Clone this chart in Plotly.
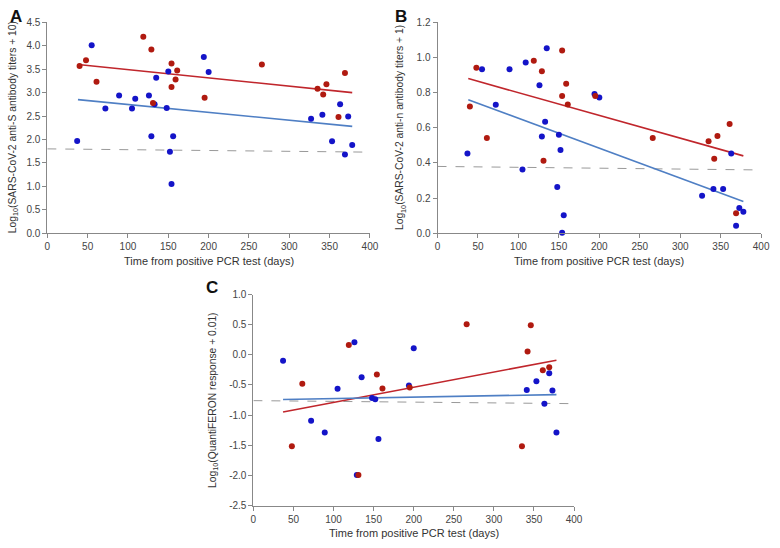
import plotly.graph_objects as go

# ---------------- data ----------------
blue_days = [37, 55, 72, 89, 105, 109, 126, 129, 133, 135, 148, 150, 152, 154, 156,
             194, 200, 327, 341, 353, 363, 369, 373, 378]
red_days = [40, 48, 61, 119, 129, 131, 154, 154, 159, 161, 195, 266, 335, 342, 346, 361, 369]

a_blue = [1.97, 4.01, 2.66, 2.94, 2.66, 2.87, 2.94, 2.07, 2.75, 3.32, 2.67, 3.45, 1.74, 1.05, 2.07,
          3.76, 3.44, 2.44, 2.53, 1.96, 2.75, 1.68, 2.49, 1.88]
a_red = [3.57, 3.69, 3.23, 4.19, 3.92, 2.78, 3.62, 3.12, 3.28, 3.47, 2.89, 3.60, 3.08, 2.96, 3.18, 2.48, 3.42]

b_blue = [0.453, 0.933, 0.731, 0.933, 0.362, 0.972, 0.842, 0.551, 0.634, 1.052, 0.263, 0.560, 0.473,
          0.002, 0.102, 0.792, 0.772, 0.213, 0.252, 0.252, 0.453, 0.043, 0.143, 0.122]
b_red = [0.721, 0.942, 0.542, 0.981, 0.922, 0.412, 1.040, 0.781, 0.851, 0.733, 0.781, 0.542, 0.523,
         0.423, 0.553, 0.621, 0.113]

c_blue_days = [37, 72, 89, 105, 126, 129, 135, 148, 152, 156, 194, 200, 341, 353, 363, 369, 373, 378]
c_blue = [-0.098, -1.094, -1.288, -0.563, 0.210, -1.992, -0.374, -0.715, -0.736, -1.396, -0.509, 0.107,
          -0.585, -0.439, -0.812, -0.304, -0.590, -1.288]
c_red_days = [48, 61, 119, 131, 154, 161, 195, 266, 335, 342, 346, 361, 369]
c_red = [-1.515, -0.482, 0.161, -1.992, -0.325, -0.558, -0.542, 0.508, -1.515, 0.053, 0.491, -0.255, -0.206]

# regression line endpoints
fit_x = [38, 378]
a_fit_red = [3.60, 3.00]
a_fit_blue = [2.85, 2.28]
b_fit_red = [0.88, 0.44]
b_fit_blue = [0.76, 0.18]
c_fit_x = [37, 378]
c_fit_red = [-0.95, -0.09]
c_fit_blue = [-0.74, -0.66]

# threshold (dashed) lines
thr_x = [0, 400]
a_thr = [1.80, 1.73]
b_thr = [0.38, 0.36]
c_thr = [-0.76, -0.81]

x_ticks = [0, 50, 100, 150, 200, 250, 300, 350, 400]
a_yticks = [0, 0.5, 1.0, 1.5, 2.0, 2.5, 3.0, 3.5, 4.0, 4.5]
b_yticks = [0, 0.2, 0.4, 0.6, 0.8, 1.0, 1.2]
c_yticks = [-2.5, -2.0, -1.5, -1.0, -0.5, 0.0, 0.5, 1.0]

BLUE = "#1414c8"
RED = "#b01a10"
LRED = "#c0262c"
LBLUE = "#4f7fc4"
GREY = "#999999"
FONT = "Liberation Sans, Arial, sans-serif"

fig = go.Figure()

panels = [
    ("x", "y", blue_days, a_blue, red_days, a_red, fit_x, a_fit_red, a_fit_blue, a_thr),
    ("x2", "y2", blue_days, b_blue, red_days, b_red, fit_x, b_fit_red, b_fit_blue, b_thr),
    ("x3", "y3", c_blue_days, c_blue, c_red_days, c_red, c_fit_x, c_fit_red, c_fit_blue, c_thr),
]
for xa, ya, bx, by, rx, ry, fx, fr, fb, th in panels:
    fig.add_trace(go.Scatter(x=thr_x, y=th, mode="lines", xaxis=xa, yaxis=ya,
                             line=dict(color=GREY, width=1, dash="dash"), showlegend=False))
    fig.add_trace(go.Scatter(x=fx, y=fr, mode="lines", xaxis=xa, yaxis=ya,
                             line=dict(color=LRED, width=1.6), showlegend=False))
    fig.add_trace(go.Scatter(x=fx, y=fb, mode="lines", xaxis=xa, yaxis=ya,
                             line=dict(color=LBLUE, width=1.6), showlegend=False))
    fig.add_trace(go.Scatter(x=bx, y=by, mode="markers", xaxis=xa, yaxis=ya, cliponaxis=False,
                             marker=dict(color=BLUE, size=6), showlegend=False))
    fig.add_trace(go.Scatter(x=rx, y=ry, mode="markers", xaxis=xa, yaxis=ya, cliponaxis=False,
                             marker=dict(color=RED, size=6), showlegend=False))

W, H = 780, 548


def xd(a, b):
    return [a / W, b / W]


def yd(top, bottom):
    return [1 - bottom / H, 1 - top / H]


axis_common = dict(showline=True, linecolor="#888888", linewidth=1, ticks="outside", ticklen=4,
                   tickcolor="#888888", showgrid=False, zeroline=False,
                   tickfont=dict(family=FONT, size=10, color="#444444"))

fig.update_layout(
    width=W, height=H, margin=dict(l=0, r=0, t=0, b=0),
    paper_bgcolor="white", plot_bgcolor="white",
    xaxis=dict(domain=xd(45, 372.7), range=[0, 400], tickvals=x_ticks, anchor="y", **axis_common),
    yaxis=dict(domain=yd(16.7, 232.3), range=[0, 4.5], tickvals=a_yticks, tickformat=".1f",
               anchor="x", **axis_common),
    xaxis2=dict(domain=xd(441.3, 770), range=[0, 400], tickvals=x_ticks, anchor="y2", **axis_common),
    yaxis2=dict(domain=yd(16.7, 232.3), range=[0, 1.2], tickvals=b_yticks, tickformat=".1f",
                anchor="x2", **axis_common),
    xaxis3=dict(domain=xd(254.3, 580), range=[0, 400], tickvals=x_ticks, anchor="y3", **axis_common),
    yaxis3=dict(domain=yd(295, 510.7), range=[-2.5, 1.0], tickvals=c_yticks,
                ticktext=[f"{v:.1f}" for v in c_yticks], anchor="x3", **axis_common),
)

ann = []
tfont = dict(family=FONT, size=11, color="#333333")
# x titles
for cx, cy in [((45 + 372.7) / 2, 261), ((441.3 + 770) / 2, 261), ((254.3 + 580) / 2, 539)]:
    ann.append(dict(x=cx / W, y=1 - cy / H, xref="paper", yref="paper", showarrow=False,
                    text="Time from positive PCR test (days)", font=tfont,
                    xanchor="center", yanchor="middle"))
# y titles
for cx, cy, txt in [
    (10, 124, "Log<sub>10</sub>(SARS-CoV-2 anti-S antibody titers + 10)"),
    (404, 124, "Log<sub>10</sub>(SARS-CoV-2 anti-n antibody titers + 1)"),
    (213, 403, "Log<sub>10</sub>(QuantiFERON response + 0.01)"),
]:
    ann.append(dict(x=cx / W, y=1 - cy / H, xref="paper", yref="paper", showarrow=False,
                    text=txt, textangle=-90, font=dict(family=FONT, size=10.3, color="#333333"),
                    xanchor="center", yanchor="middle"))
# panel letters
for cx, cy, txt in [(13, 11, "A"), (404, 11, "B"), (212, 288, "C")]:
    ann.append(dict(x=cx / W, y=1 - cy / H, xref="paper", yref="paper", showarrow=False,
                    text=f"<b>{txt}</b>", font=dict(family=FONT, size=17, color="#111111"),
                    xanchor="center", yanchor="middle"))
fig.update_layout(annotations=ann)

fig.write_html("out.html", config={"displayModeBar": False},
               post_script="document.body.style.margin='0';")
